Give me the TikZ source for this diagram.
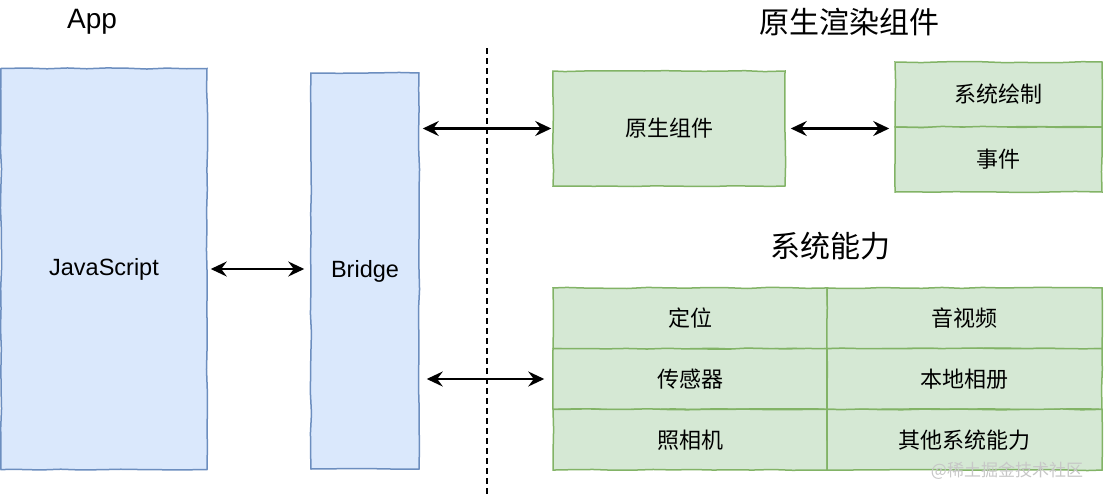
\documentclass[tikz,border=0pt]{standalone}
\usepackage{fontspec}
\setmainfont{Liberation Sans}
\newfontfamily\cjk{Noto Sans CJK SC}
\usepackage{tikz}
\usetikzlibrary{arrows.meta}
\usetikzlibrary{decorations.pathmorphing}
\definecolor{jsblue}{HTML}{DAE8FC}
\definecolor{jsedge}{HTML}{6C8EBF}
\definecolor{natgreen}{HTML}{D5E8D4}
\definecolor{natedge}{HTML}{82B366}
\tikzstyle{sketch}=[decorate,decoration={random steps,segment length=20pt,amplitude=0.6pt}]
\tikzstyle{bluebox}=[draw=jsedge,fill=jsblue,line width=1.5pt,sketch,inner sep=0pt,font=\fontsize{23.5}{27}\selectfont]
\tikzstyle{greenbox}=[draw=natedge,fill=natgreen,line width=1.5pt,sketch,inner sep=0pt,font=\cjk\fontsize{22}{26}\selectfont]
\tikzstyle{title}=[inner sep=0pt,font=\fontsize{28}{32}\selectfont]
\tikzstyle{both}=[{Stealth[length=16pt,width=15pt,inset=5.5pt]}-{Stealth[length=16pt,width=15pt,inset=5.5pt]},line width=2.2pt]

\begin{document}
\begin{tikzpicture}[x=1pt,y=-1pt]
      \useasboundingbox (0,0) rectangle (1104,498);

      % titles
      \node[title] (tapp) at (92,22) {App};
      \node[title,font=\cjk\fontsize{30}{34}\selectfont] (tnat) at (849,22) {原生渲染组件};
      \node[title,font=\cjk\fontsize{30}{34}\selectfont] (tsys) at (830,246) {系统能力};

      % app side
      \node[bluebox,minimum width=206pt,minimum height=401pt] (js) at (104,269) {JavaScript};
      \node[bluebox,minimum width=108pt,minimum height=396pt] (br) at (365,271) {Bridge};

      % divider
      \coordinate (dtop) at (487,48);
      \coordinate (dbot) at (487,496);
      \draw[line width=1.3pt,dash pattern=on 6pt off 4pt] (dtop) -- (dbot);

      % native components
      \node[greenbox,minimum width=232pt,minimum height=115pt] (nat) at (669,128.5) {原生组件};
      \node[greenbox,minimum width=207pt,minimum height=65pt] (draw) at (998.5,94.5) {系统绘制};
      \node[greenbox,minimum width=207pt,minimum height=65pt] (evt) at (998.5,159.5) {事件};

      % system abilities
      \node[greenbox,minimum width=274pt,minimum height=60.7pt] (s11) at (690,318.3) {定位};
      \node[greenbox,minimum width=275pt,minimum height=60.7pt] (s12) at (964.5,318.3) {音视频};
      \node[greenbox,minimum width=274pt,minimum height=60.7pt] (s21) at (690,379) {传感器};
      \node[greenbox,minimum width=275pt,minimum height=60.7pt] (s22) at (964.5,379) {本地相册};
      \node[greenbox,minimum width=274pt,minimum height=60.7pt] (s31) at (690,439.7) {照相机};
      \node[greenbox,minimum width=275pt,minimum height=60.7pt] (s32) at (964.5,439.7) {其他系统能力};

      \node[font=\cjk\fontsize{17}{20}\selectfont,text=black!22,inner sep=0pt] (mark) at (1007,471) {@稀土掘金技术社区};

      % links
      \draw[both,shorten <=3pt,shorten >=6pt] (js.east) -- (js.east -| br.west);
      \draw[both,shorten <=3pt,shorten >=1pt] (br.east |- nat.west) -- (nat.west);
      \draw[both,shorten <=5pt,shorten >=5pt] (nat.east) -- (nat.east -| draw.west);
      \draw[both,shorten <=7pt,shorten >=8pt] (br.east |- s21.west) -- (s21.west);
\end{tikzpicture}
\end{document}
